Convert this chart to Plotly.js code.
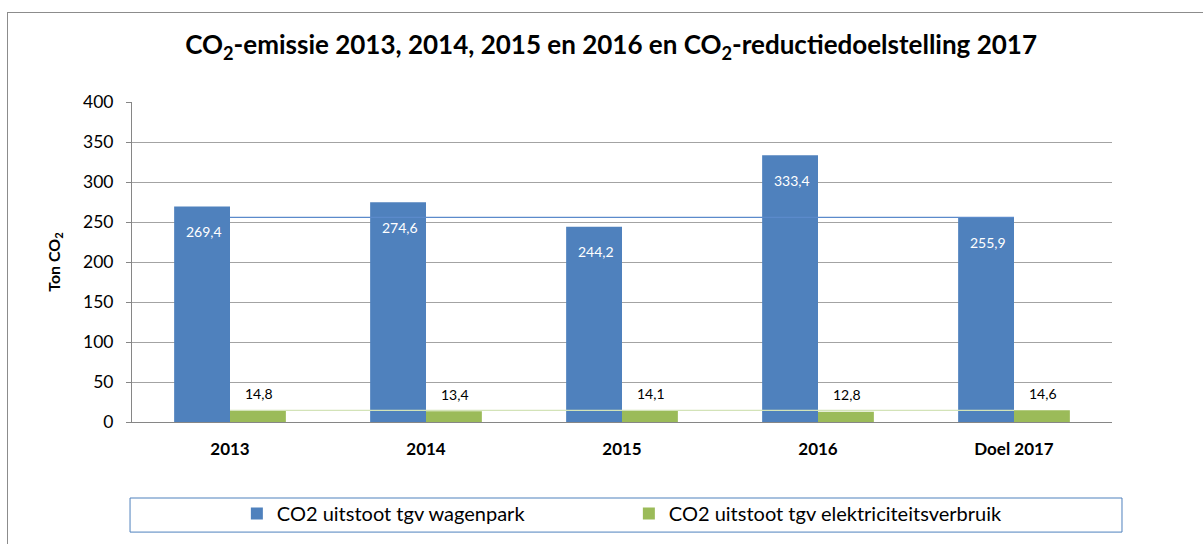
<!DOCTYPE html>
<html><head><meta charset="utf-8">
<script src="https://cdn.plot.ly/plotly-3.0.1.min.js"></script>
<style>
html,body{margin:0;padding:0;background:#fff;overflow:hidden;}
#frame{position:absolute;left:7px;top:12px;width:1400px;height:800px;border:1px solid #8c8c8c;box-sizing:border-box;}
#chart{position:absolute;left:0;top:0;width:1203px;height:544px;}
</style></head><body>
<div id="frame"></div>
<div id="chart"></div>
<script>
const categories = ['2013', '2014', '2015', '2016', 'Doel 2017'];
const wagenpark = [269.4, 274.6, 244.2, 333.4, 255.9];
const elektriciteit = [14.8, 13.4, 14.1, 12.8, 14.6];
const doelWagenpark = [255.9, 255.9, 255.9, 255.9, 255.9];
const doelElektriciteit = [14.6, 14.6, 14.6, 14.6, 14.6];
const yTicks = [0, 50, 100, 150, 200, 250, 300, 350, 400];
const seriesNames = ['CO2 uitstoot tgv wagenpark', 'CO2 uitstoot tgv elektriciteitsverbruik'];
const chartTitle = 'CO<sub>2</sub>-emissie 2013, 2014, 2015 en 2016 en CO<sub>2</sub>-reductiedoelstelling 2017';
const yTitle = 'Ton CO<sub>2</sub>';

const BLUE = '#4F81BD', GREEN = '#9BBB59';
const FONT = 'Lato, "Open Sans", sans-serif';
const fmt = v => v.toFixed(1).replace('.', ',');

const traces = [
  {type: 'bar', name: seriesNames[0], x: categories, y: wagenpark,
   marker: {color: BLUE}, hoverinfo: 'skip'},
  {type: 'bar', name: seriesNames[1], x: categories, y: elektriciteit,
   marker: {color: GREEN}, hoverinfo: 'skip'},
  {type: 'scatter', mode: 'lines', x: categories, y: doelWagenpark,
   line: {color: '#5B8ACB', width: 1.2}, showlegend: false, hoverinfo: 'skip'},
  {type: 'scatter', mode: 'lines', x: categories, y: doelElektriciteit,
   line: {color: '#D3E3B8', width: 1.2}, showlegend: false, hoverinfo: 'skip'}
];

const annotations = [];
categories.forEach((c, i) => {
  annotations.push({x: i, y: wagenpark[i], xref: 'x', yref: 'y', text: fmt(wagenpark[i]),
    showarrow: false, xshift: -26, yshift: -25, yanchor: 'middle',
    font: {family: FONT, size: 14, color: '#ffffff'}});
  annotations.push({x: i, y: elektriciteit[i], xref: 'x', yref: 'y', text: fmt(elektriciteit[i]),
    showarrow: false, xshift: 29, yshift: 17, yanchor: 'middle',
    font: {family: FONT, size: 14, color: '#000000'}});
});

const layout = {
  width: 1203, height: 544,
  paper_bgcolor: 'rgba(0,0,0,0)', plot_bgcolor: 'rgba(0,0,0,0)',
  margin: {l: 132, r: 91, t: 102, b: 122, autoexpand: false},
  font: {family: FONT, color: '#000'},
  title: {text: chartTitle, font: {family: FONT, size: 26, color: '#000', weight: 'bold'},
    x: 0.508, xanchor: 'center', y: 0.917, yanchor: 'middle'},
  barmode: 'group', bargap: 0.43, bargroupgap: 0,
  showlegend: true,
  legend: {orientation: 'h', x: 0.107, xanchor: 'left', y: -0.225, yanchor: 'top',
    entrywidth: 347, entrywidthmode: 'pixels',
    font: {family: FONT, size: 20, color: '#000'}, bgcolor: 'rgba(0,0,0,0)', borderwidth: 0},
  xaxis: {type: 'category', range: [-0.5, categories.length - 0.5], automargin: false,
    showgrid: false, showline: true, linecolor: '#868686', linewidth: 1,
    ticks: '', ticklabelstandoff: 12,
    tickfont: {family: FONT, size: 17, color: '#000', weight: 'bold'}, zeroline: false},
  yaxis: {range: [0, 400], automargin: false, tickvals: yTicks, ticktext: yTicks.map(String),
    showgrid: true, gridcolor: '#a3a3a3', gridwidth: 1,
    showline: true, linecolor: '#868686', linewidth: 1,
    ticks: 'outside', ticklen: 5, tickcolor: '#868686', ticklabelstandoff: 9,
    tickfont: {family: FONT, size: 17.5, color: '#000'}, zeroline: false,
    title: {text: yTitle, standoff: 18, font: {family: FONT, size: 16, color: '#000', weight: 'bold'}}},
  shapes: [{type: 'rect', xref: 'paper', yref: 'paper', x0: -0.002, x1: 1.0102, y0: -0.2375, y1: -0.344,
    line: {color: '#4F81BD', width: 1}, fillcolor: 'rgba(0,0,0,0)', layer: 'below'}],
  annotations: annotations
};

Plotly.newPlot('chart', traces, layout, {staticPlot: true, displayModeBar: false});
</script>
</body></html>
